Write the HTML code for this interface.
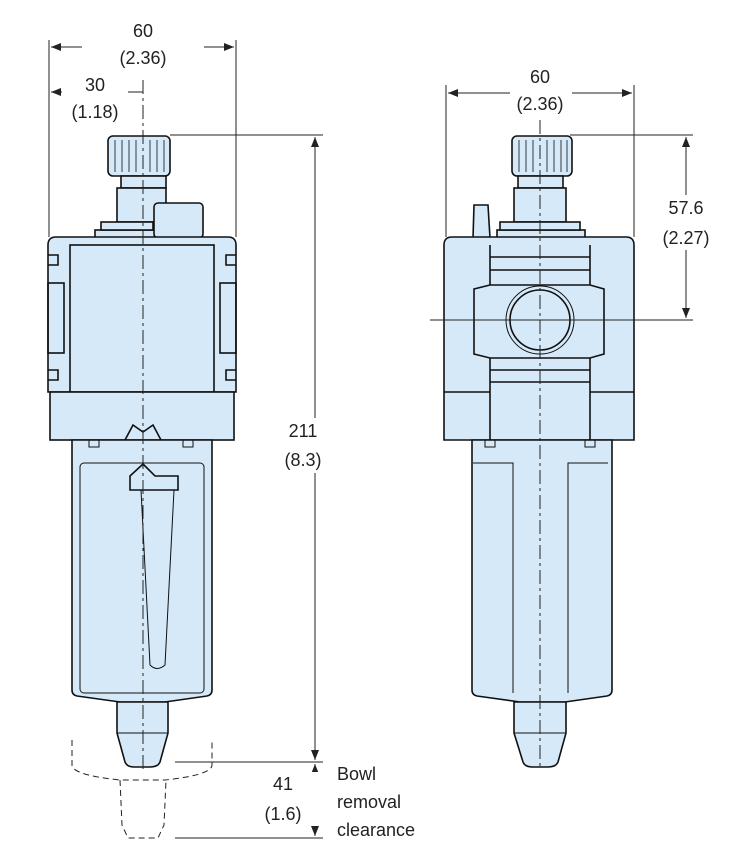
<!DOCTYPE html>
<html><head><style>body{margin:0;background:#fff}svg{display:block}text{font-family:"Liberation Sans",sans-serif;font-size:18px;fill:#222;text-anchor:middle}</style></head><body>
<svg width="745" height="863" viewBox="0 0 745 863" xmlns="http://www.w3.org/2000/svg">
<defs><marker id="a" markerWidth="10" markerHeight="8" refX="10" refY="4" orient="auto-start-reverse" markerUnits="userSpaceOnUse"><path d="M0,0 L10,4 L0,8z" fill="#222"/></marker></defs>
<g fill="#d6e9f8" stroke="#111" stroke-width="1.6">
<!-- LEFT -->
<rect x="108" y="136" width="62" height="40" rx="5"/>
<path d="M115,140 L115,172 M122,140 L122,172 M129,140 L129,172 M136,140 L136,172 M150,140 L150,172 M157,140 L157,172 M164,140 L164,172" stroke-width="0.8"/>
<rect x="121" y="176" width="45" height="12"/>
<rect x="117" y="188" width="49" height="34"/>
<rect x="95" y="230" width="60" height="8"/>
<rect x="101" y="222" width="52" height="8"/>
<rect x="154" y="203" width="49" height="35" rx="4"/>
<path d="M48,245 Q48,237 56,237 L228,237 Q236,237 236,245 L236,392 L48,392 Z"/>
<rect x="70" y="245" width="144" height="147"/>
<path d="M48,255 L58,255 L58,265 L48,265 M48,370 L58,370 L58,380 L48,380 M236,255 L226,255 L226,265 L236,265 M236,370 L226,370 L226,380 L236,380" fill="none"/>
<rect x="48" y="283" width="16" height="70" fill="none"/>
<rect x="220" y="283" width="16" height="70" fill="none"/>
<rect x="50" y="392" width="184" height="48"/>
<path d="M125,440 L133,425 L143,432 L153,425 L161,440" fill="none"/>
<path d="M72,440 L212,440 L212,690 Q212,695 207,696 L165,702 L120,702 L77,696 Q72,695 72,690 Z"/>
<rect x="80" y="463" width="124" height="230" rx="4" fill="none" stroke-width="1"/>
<path d="M143,464 L155,476 L178,476 L178,490 L130,490 L130,476 Z"/>
<path d="M141,490 L150,665 Q157,672 165,665 L174,490" fill="none" stroke-width="1"/>
<rect x="89" y="440" width="10" height="7" fill="none" stroke-width="1"/>
<rect x="183" y="440" width="10" height="7" fill="none" stroke-width="1"/>
<path d="M117,702 L168,702 L168,733 L160,762 Q158,767 150,767 L134,767 Q127,767 125,762 L117,733 Z"/>
<line x1="117" y1="733" x2="168" y2="733" stroke-width="1"/>
<!-- RIGHT -->
<path d="M473,238 L474,205 L488,205 L490,238 Z"/>
<rect x="512" y="136" width="60" height="40" rx="5"/>
<path d="M519,140 L519,172 M526,140 L526,172 M533,140 L533,172 M547,140 L547,172 M554,140 L554,172 M561,140 L561,172 M567,140 L567,172" stroke-width="0.8"/>
<rect x="518" y="176" width="45" height="12"/>
<rect x="514" y="188" width="52" height="34"/>
<rect x="497" y="230" width="88" height="8"/>
<rect x="500" y="222" width="80" height="8"/>
<path d="M444,245 Q444,237 452,237 L626,237 Q634,237 634,245 L634,440 L444,440 Z"/>
<path d="M490,245 L490,440 M590,245 L590,440 M444,392 L490,392 M590,392 L634,392 M490,257 L590,257 M490,270 L590,270 M490,370 L590,370 M490,382 L590,382" fill="none"/>
<path d="M490,285 L474,289 L474,354 L490,358 L590,358 L604,354 L604,289 L590,285 Z"/>
<circle cx="540" cy="320" r="34" fill="none" stroke-width="1"/>
<circle cx="540" cy="320" r="30"/>
<path d="M472,440 L612,440 L612,690 Q612,695 607,696 L565,702 L520,702 L477,696 Q472,695 472,690 Z"/>
<path d="M473,463 L513,463 L513,693 M608,463 L568,463 L568,693" fill="none" stroke-width="1"/>
<rect x="485" y="440" width="10" height="7" fill="none" stroke-width="1"/>
<rect x="585" y="440" width="10" height="7" fill="none" stroke-width="1"/>
<path d="M514,702 L566,702 L566,733 L558,762 Q556,767 548,767 L532,767 Q525,767 523,762 L514,733 Z"/>
<line x1="514" y1="733" x2="566" y2="733" stroke-width="1"/>
</g>
<g stroke="#222" stroke-width="1" fill="none">
<path d="M49,40 L49,237 M236,40 L236,237 M446,85 L446,237 M634,85 L634,237" />
<line x1="51" y1="47" x2="234" y2="47" marker-start="url(#a)" marker-end="url(#a)"/>
<line x1="51" y1="92" x2="143" y2="92" marker-start="url(#a)"/>
<line x1="448" y1="93" x2="632" y2="93" marker-start="url(#a)" marker-end="url(#a)"/>
<path d="M170,135 L323,135 M175,762 L323,762 M175,838 L323,838 M570,135 L693,135 M430,320 L693,320"/>
<line x1="315" y1="137" x2="315" y2="760" marker-start="url(#a)" marker-end="url(#a)"/>
<line x1="315" y1="780" x2="315" y2="764" marker-end="url(#a)"/>
<line x1="315" y1="820" x2="315" y2="836" marker-end="url(#a)"/>
<line x1="686" y1="137" x2="686" y2="318" marker-start="url(#a)" marker-end="url(#a)"/>
<path d="M143,80 L143,770 M540,120 L540,770 M430,320 L650,320" stroke-dasharray="14,4,3,4"/>
<path d="M72,740 L72,765 Q72,775 120,780 L165,780 Q212,775 212,765 L212,740 M120,780 L122,825 L128,838 L158,838 L164,825 L166,780" stroke-dasharray="6,4"/>
</g>
<g fill="#fff">
<rect x="82" y="20" width="122" height="50"/>
<rect x="62" y="74" width="66" height="50"/>
<rect x="510" y="66" width="62" height="50"/>
<rect x="660" y="195" width="54" height="55"/>
<rect x="283" y="418" width="42" height="55"/>
<rect x="262" y="772" width="60" height="54"/>
</g>
<text x="143" y="37">60</text><text x="143" y="64">(2.36)</text>
<text x="95" y="91">30</text><text x="95" y="118">(1.18)</text>
<text x="540" y="83">60</text><text x="540" y="110">(2.36)</text>
<text x="686" y="214">57.6</text><text x="686" y="244">(2.27)</text>
<text x="303" y="437">211</text><text x="303" y="466">(8.3)</text>
<text x="283" y="790">41</text><text x="283" y="820">(1.6)</text>
<text x="337" y="780" style="text-anchor:start">Bowl</text>
<text x="337" y="808" style="text-anchor:start">removal</text>
<text x="337" y="836" style="text-anchor:start">clearance</text>
</svg>
</body></html>
